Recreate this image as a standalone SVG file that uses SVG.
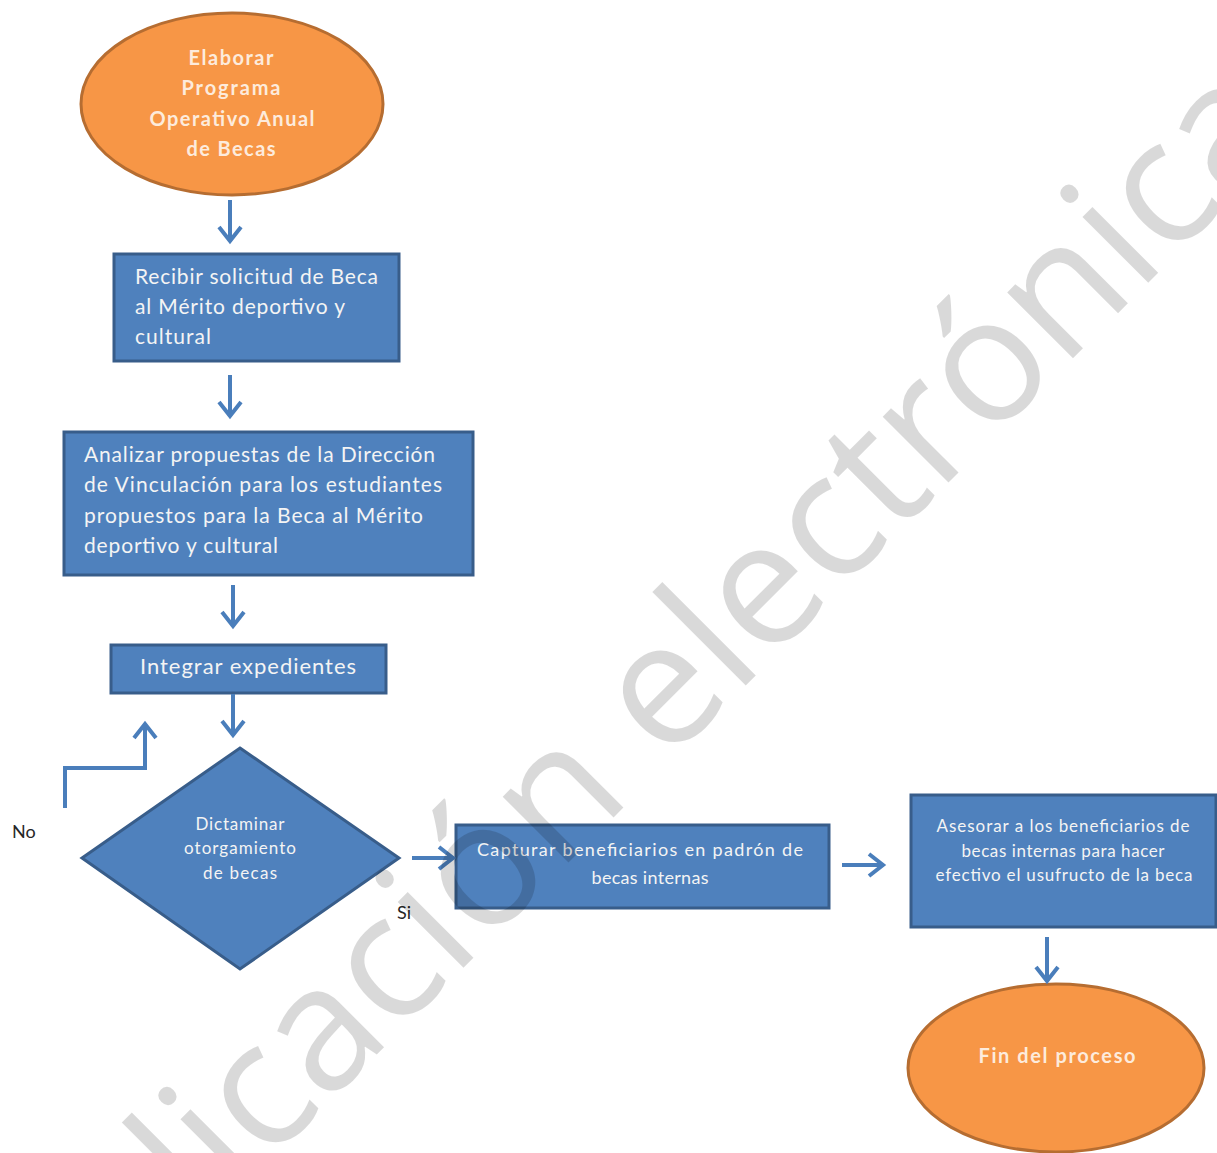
<svg xmlns="http://www.w3.org/2000/svg" width="1217" height="1153" viewBox="0 0 1217 1153">
<defs>
<style>
.blk{fill:#4F81BD;stroke:#385D8A;stroke-width:3}
.org{fill:#F79646;stroke:#B66D31;stroke-width:3}
.t{font-family:Lato,"Liberation Sans",sans-serif;fill:#F4F4F4;font-size:21px}
.tb{font-family:Lato,"Liberation Sans",sans-serif;font-weight:bold;fill:#FDEBDC;font-size:20px;text-anchor:middle}
.m{text-anchor:middle}
.lbl{font-family:Lato,"Liberation Sans",sans-serif;fill:#262626;font-size:18px}
.conn path{stroke:#4A7EBB;stroke-width:4;fill:none;marker-end:url(#ah)}
.wm{font-family:"Open Sans","Liberation Sans",sans-serif;font-size:174px;fill:#000;fill-opacity:0.15}
</style>
<marker id="ah" markerUnits="userSpaceOnUse" markerWidth="30" markerHeight="30" viewBox="-20 -15 25 30" refX="0" refY="0" orient="auto" overflow="visible">
<path d="M-14,-11 L0,0 L-14,11" fill="none" stroke="#4A7EBB" stroke-width="4"/>
</marker>
</defs>
<rect width="1217" height="1153" fill="#FFFFFF"/>

<g id="inicio">
<ellipse class="org" cx="232" cy="104" rx="151" ry="91"/>
<text class="tb" x="231" y="65" textLength="85">Elaborar</text>
<text class="tb" x="231" y="95" textLength="99">Programa</text>
<text class="tb" x="232" y="126" textLength="165">Operativo Anual</text>
<text class="tb" x="231" y="156" textLength="89">de Becas</text>
</g>

<g id="recibir">
<rect class="blk" x="114" y="254" width="285" height="107"/>
<text class="t" x="135" y="284" textLength="243">Recibir solicitud de Beca</text>
<text class="t" x="135" y="314" textLength="210">al Mérito deportivo y</text>
<text class="t" x="135" y="344" textLength="76">cultural</text>
</g>

<g id="analizar">
<rect class="blk" x="64" y="432" width="409" height="143"/>
<text class="t" x="84" y="462" textLength="351">Analizar propuestas de la Dirección</text>
<text class="t" x="84" y="492" textLength="358">de Vinculación para los estudiantes</text>
<text class="t" x="84" y="523" textLength="339">propuestos para la Beca al Mérito</text>
<text class="t" x="84" y="553" textLength="194">deportivo y cultural</text>
</g>

<g id="integrar">
<rect class="blk" x="111" y="645" width="275" height="48"/>
<text class="t m" x="248" y="674" textLength="216" style="font-size:22px">Integrar expedientes</text>
</g>

<g id="dictaminar">
<polygon class="blk" points="240,748 399,858 240,969 82,858"/>
<text class="t m" x="240" y="830" textLength="89" style="font-size:17px">Dictaminar</text>
<text class="t m" x="240" y="854" textLength="112" style="font-size:17px">otorgamiento</text>
<text class="t m" x="240" y="879" textLength="74" style="font-size:17px">de becas</text>
</g>

<g id="capturar">
<rect class="blk" x="456" y="825" width="373" height="83"/>
<text class="t m" x="640" y="856" textLength="326" style="font-size:18px">Capturar beneficiarios en padrón de</text>
<text class="t m" x="650" y="884" textLength="117" style="font-size:18px">becas internas</text>
</g>

<g id="asesorar">
<rect class="blk" x="911" y="795" width="305" height="132"/>
<text class="t m" x="1063" y="832" textLength="253" style="font-size:17px">Asesorar a los beneficiarios de</text>
<text class="t m" x="1063" y="857" textLength="203" style="font-size:17px">becas internas para hacer</text>
<text class="t m" x="1064" y="881" textLength="257" style="font-size:17px">efectivo el usufructo de la beca</text>
</g>

<g id="fin">
<ellipse class="org" cx="1056" cy="1068" rx="148" ry="84"/>
<text class="tb" x="1057" y="1063" textLength="157">Fin del proceso</text>
</g>

<g id="etiquetas">
<text class="lbl" x="12" y="838">No</text>
<text class="lbl" x="397" y="919">Si</text>
</g>

<g class="conn">
<path d="M230,200 V241"/>
<path d="M230,375 V416"/>
<path d="M233,585 V626"/>
<path d="M233,694 V735"/>
<path d="M65,808 V768 H145 V724"/>
<path d="M412,858 H453"/>
<path d="M842,865 H883"/>
<path d="M1047,937 V981"/>
</g>

<text class="wm" transform="rotate(-45)" y="1012"><tspan x="-116" text-anchor="end">Publicación</tspan><tspan x="-70" text-anchor="start">electrónica</tspan></text>
</svg>
